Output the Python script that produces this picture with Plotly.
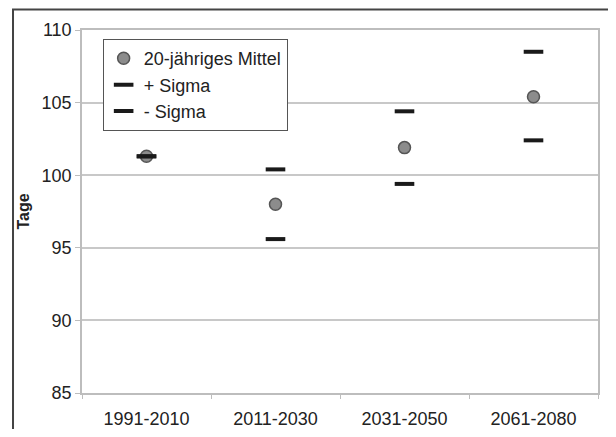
import plotly.graph_objects as go

categories = ["1991-2010", "2011-2030", "2031-2050", "2061-2080"]
mittel = [101.3, 98.0, 101.9, 105.4]
plus_sigma = [101.3, 100.4, 104.4, 108.5]
minus_sigma = [101.3, 95.6, 99.4, 102.4]
y_ticks = [85, 90, 95, 100, 105, 110]

FONT = "Liberation Sans, Arial, sans-serif"

fig = go.Figure()
fig.add_trace(go.Scatter(
    x=categories, y=mittel, mode="markers", name="20-jähriges Mittel",
    marker=dict(symbol="circle", size=12, color="#8c8c8c",
                line=dict(color="#555555", width=1.5)),
))
fig.add_trace(go.Scatter(
    x=categories, y=plus_sigma, mode="markers", name="+ Sigma",
    marker=dict(symbol="line-ew", size=14, color="#1a1a1a",
                line=dict(color="#1a1a1a", width=4)),
))
fig.add_trace(go.Scatter(
    x=categories, y=minus_sigma, mode="markers", name="- Sigma",
    marker=dict(symbol="line-ew", size=14, color="#1a1a1a",
                line=dict(color="#1a1a1a", width=4)),
))

fig.update_layout(
    width=608, height=421,
    margin=dict(l=74, r=18, t=22, b=36, autoexpand=False),
    paper_bgcolor="white", plot_bgcolor="white",
    font=dict(family=FONT, size=18, color="#222222"),
    showlegend=True,
    legend=dict(
        x=0.04, y=0.975, xanchor="left", yanchor="top",
        bgcolor="white", bordercolor="#555555", borderwidth=1,
        font=dict(family=FONT, size=18, color="#222222"),
        itemwidth=30, tracegroupgap=0,
    ),
    xaxis=dict(
        type="category", categoryorder="array", categoryarray=categories,
        showgrid=False, showline=True, linecolor="#bdbdbd", linewidth=1.5,
        mirror=True, ticks="outside", tickson="boundaries", ticklen=4,
        tickcolor="#bdbdbd", tickfont=dict(size=18, color="#222222"),
        ticklabelstandoff=9,
        range=[-0.5, 3.5], automargin=False,
    ),
    yaxis=dict(
        range=[85, 110], tickvals=y_ticks, showgrid=True,
        gridcolor="#c8c8c8", gridwidth=1.5,
        showline=True, linecolor="#bdbdbd", linewidth=1.5, mirror=True,
        ticks="outside", ticklen=5, tickcolor="#bdbdbd",
        tickfont=dict(size=18, color="#222222"),
        title=dict(text="<b>Tage</b>", font=dict(size=16, color="#222222"),
                   standoff=8),
        zeroline=False, automargin=False,
    ),
    shapes=[dict(
        type="rect", xref="paper", yref="paper",
        x0=-0.1337, x1=1.033, y0=-0.2, y1=1.0565,
        line=dict(color="#444444", width=2), fillcolor="rgba(0,0,0,0)",
        layer="below",
    )],
)

fig.write_html("out.html", config={"displayModeBar": False})
